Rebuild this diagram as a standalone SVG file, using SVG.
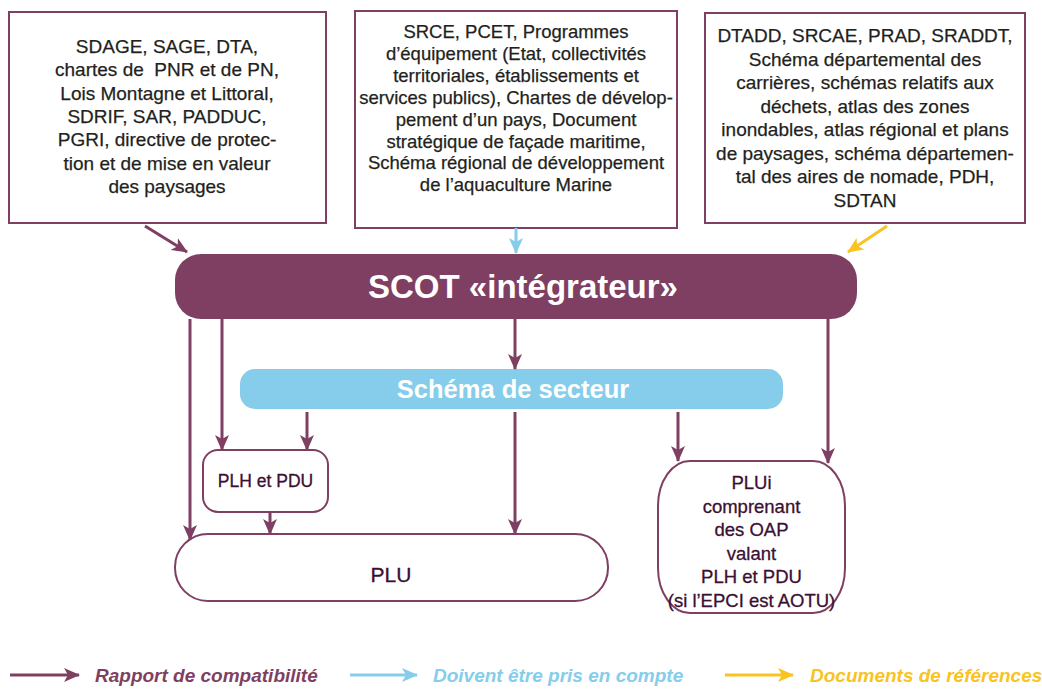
<svg xmlns="http://www.w3.org/2000/svg" width="1042" height="690" viewBox="0 0 1042 690">
<defs>
<style>
.box{fill:#fff;stroke:#7f3f62;stroke-width:2}
.tb{font-family:"Liberation Sans",Arial,sans-serif;font-size:19px;fill:#231f20;stroke:#231f20;stroke-width:0.25;text-anchor:middle}
.tm{font-size:18.5px}
.nd{font-family:"Liberation Sans",Arial,sans-serif;fill:#3b1033;stroke:#3b1033;stroke-width:0.3;text-anchor:middle}
.cp{fill:none;stroke:#7f3f62;stroke-width:3}
.cb{fill:none;stroke:#85cdea;stroke-width:3}
.cy{fill:none;stroke:#f9c320;stroke-width:3}
.lg{font-family:"Liberation Sans",Arial,sans-serif;font-size:19px;font-weight:bold;font-style:italic}
</style>
<marker id="ap" markerUnits="userSpaceOnUse" markerWidth="16" markerHeight="14" refX="15" refY="7" orient="auto"><path d="M0,0 L16,7 L0,14 L4,7 Z" fill="#7f3f62"/></marker>
<marker id="ab" markerUnits="userSpaceOnUse" markerWidth="16" markerHeight="14" refX="15" refY="7" orient="auto"><path d="M0,0 L16,7 L0,14 L4,7 Z" fill="#85cdea"/></marker>
<marker id="ay" markerUnits="userSpaceOnUse" markerWidth="16" markerHeight="14" refX="15" refY="7" orient="auto"><path d="M0,0 L16,7 L0,14 L4,7 Z" fill="#f9c320"/></marker>
</defs>

<g id="box-left">
<rect class="box" x="9" y="12" width="317" height="211"/>
<text class="tb" x="167" y="53">SDAGE, SAGE, DTA,</text>
<text class="tb" x="167" y="76.3">chartes de&#160; PNR et de PN,</text>
<text class="tb" x="167" y="99.7">Lois Montagne et Littoral,</text>
<text class="tb" x="167" y="123">SDRIF, SAR, PADDUC,</text>
<text class="tb" x="167" y="146.3">PGRI, directive de protec-</text>
<text class="tb" x="167" y="169.7">tion et de mise en valeur</text>
<text class="tb" x="167" y="193">des paysages</text>
</g>

<g id="box-middle">
<rect class="box" x="355" y="11" width="322" height="217"/>
<text class="tb tm" x="516" y="38">SRCE, PCET, Programmes</text>
<text class="tb tm" x="516" y="59.9">d’équipement (Etat, collectivités</text>
<text class="tb tm" x="516" y="81.8">territoriales, établissements et</text>
<text class="tb tm" x="516" y="103.7">services publics), Chartes de dévelop-</text>
<text class="tb tm" x="516" y="125.6">pement d’un pays, Document</text>
<text class="tb tm" x="516" y="147.5">stratégique de façade maritime,</text>
<text class="tb tm" x="516" y="169.4">Schéma régional de développement</text>
<text class="tb tm" x="516" y="191.3">de l’aquaculture Marine</text>
</g>

<g id="box-right">
<rect class="box" x="705" y="13" width="320" height="210"/>
<text class="tb" x="865" y="42">DTADD, SRCAE, PRAD, SRADDT,</text>
<text class="tb" x="865" y="65.5">Schéma départemental des</text>
<text class="tb" x="865" y="89">carrières, schémas relatifs aux</text>
<text class="tb" x="865" y="112.5">déchets, atlas des zones</text>
<text class="tb" x="865" y="136">inondables, atlas régional et plans</text>
<text class="tb" x="865" y="159.5">de paysages, schéma départemen-</text>
<text class="tb" x="865" y="183">tal des aires de nomade, PDH,</text>
<text class="tb" x="865" y="206.5">SDTAN</text>
</g>

<g id="scot">
<rect x="175" y="254" width="682" height="65" rx="26" fill="#7f3f62"/>
<text x="523" y="298" font-family="'Liberation Sans',Arial,sans-serif" font-size="33" font-weight="bold" fill="#fff" text-anchor="middle">SCOT «intégrateur»</text>
</g>

<g id="schema-secteur">
<rect x="240" y="369" width="543" height="40" rx="15" fill="#85cdea"/>
<text x="513" y="398" font-family="'Liberation Sans',Arial,sans-serif" font-size="25.5" font-weight="bold" fill="#fff" text-anchor="middle">Schéma de secteur</text>
</g>

<g id="plh-pdu">
<rect class="box" x="203" y="450" width="125" height="62" rx="15"/>
<text class="nd" x="265.5" y="487" font-size="17.5">PLH et PDU</text>
</g>

<g id="plu">
<rect class="box" x="175" y="534" width="433" height="67" rx="33"/>
<text class="nd" x="391" y="582" font-size="21">PLU</text>
</g>

<g id="plui">
<rect class="box" x="658" y="461" width="187" height="152" rx="32" ry="45"/>
<text class="nd" x="751.5" y="489" font-size="18.5">PLUi</text>
<text class="nd" x="751.5" y="512.5" font-size="18.5">comprenant</text>
<text class="nd" x="751.5" y="536" font-size="18.5">des OAP</text>
<text class="nd" x="751.5" y="559.5" font-size="18.5">valant</text>
<text class="nd" x="751.5" y="583" font-size="18.5">PLH et PDU</text>
<text class="nd" x="751.5" y="606.5" font-size="18.5">(si l’EPCI est AOTU)</text>
</g>

<g id="connectors">
<path class="cp" d="M145,226 L187,252" marker-end="url(#ap)"/>
<path class="cb" d="M516,228 V253" marker-end="url(#ab)"/>
<path class="cy" d="M887,226 L848,252" marker-end="url(#ay)"/>
<path class="cp" d="M190,319 V540" marker-end="url(#ap)"/>
<path class="cp" d="M222,319 V450" marker-end="url(#ap)"/>
<path class="cp" d="M515,319 V369" marker-end="url(#ap)"/>
<path class="cp" d="M828,319 V463" marker-end="url(#ap)"/>
<path class="cp" d="M307,412 V450" marker-end="url(#ap)"/>
<path class="cp" d="M515,412 V534" marker-end="url(#ap)"/>
<path class="cp" d="M678,412 V461" marker-end="url(#ap)"/>
<path class="cp" d="M270,513 V534" marker-end="url(#ap)"/>
</g>

<g id="legend">
<path class="cp" d="M10,675 H79" marker-end="url(#ap)"/>
<text class="lg" x="95" y="682" fill="#7f3f62">Rapport de compatibilité</text>
<path class="cb" d="M350,675 H417" marker-end="url(#ab)"/>
<text class="lg" x="433" y="682" fill="#85cdea">Doivent être pris en compte</text>
<path class="cy" d="M725,675 H793" marker-end="url(#ay)"/>
<text class="lg" x="810" y="682" fill="#f9c320">Documents de références</text>
</g>
</svg>
